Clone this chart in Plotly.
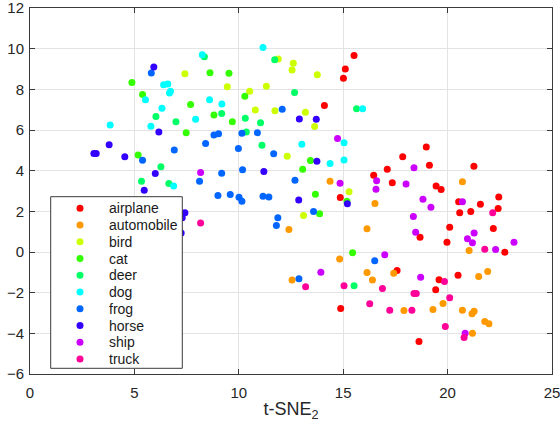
import plotly.graph_objects as go

# ---------------- data ----------------
categories = ["airplane", "automobile", "bird", "cat", "deer",
              "dog", "frog", "horse", "ship", "truck"]
colors = ["#FF0000", "#FF9900", "#CCFF00", "#33FF00", "#00FF66",
          "#00FFFF", "#0066FF", "#3300FF", "#CC00FF", "#FF0099"]

airplane_x = [15.52, 15.10, 15.01, 14.10, 18.98, 17.85, 19.13, 17.11, 21.26, 16.46, 17.35, 19.45, 19.69,
              14.86, 20.53, 21.57, 22.45, 22.42, 20.58, 21.11, 18.68, 20.10, 19.97, 22.19, 22.74, 17.58,
              19.59, 20.50, 19.43, 14.88, 18.63]
airplane_y = [9.67, 9.00, 8.54, 7.20, 5.17, 4.68, 4.27, 4.07, 4.22, 3.77, 3.40, 3.25, 3.07,
              2.68, 2.47, 2.35, 2.71, 2.14, 1.93, 1.99, 0.73, 1.22, 0.48, 1.15, -0.01, -0.91,
              -1.37, -1.14, -1.86, -2.78, -4.40]

automobile_x = [14.37, 20.71, 16.52, 21.03, 16.14, 12.40, 14.83, 12.55, 16.14, 16.40, 17.42, 21.49,
                21.92, 19.78, 17.91, 19.30, 20.71, 21.27, 21.17, 21.78, 21.98, 21.19]
automobile_y = [3.48, 3.45, 2.38, 0.07, 1.14, 1.11, -0.34, -1.38, -1.01, -1.38, -1.04, -1.20,
                -0.96, -2.53, -2.88, -2.83, -2.86, -2.91, -3.04, -3.42, -3.53, -4.00]

bird_x = [7.42, 9.45, 10.52, 11.32, 10.79, 11.73, 11.89, 12.61, 12.55, 13.76, 13.19, 13.63, 12.32, 15.28, 13.10]
bird_y = [8.77, 8.13, 7.90, 8.15, 6.98, 6.95, 9.49, 9.28, 8.95, 8.72, 6.87, 6.17, 4.71, 2.96, 1.79]

cat_x = [4.88, 5.39, 8.62, 9.53, 7.69, 8.81, 7.48, 9.69, 10.29, 5.18, 13.43, 13.06, 13.67, 15.18, 13.87, 15.45]
cat_y = [8.33, 7.74, 8.82, 8.79, 7.26, 6.74, 5.86, 6.40, 7.66, 4.77, 4.50, 4.07, 2.84, 2.50, 1.88, -0.04]

deer_x = [8.35, 6.03, 6.99, 9.18, 10.31, 11.04, 10.36, 11.11, 6.27, 5.34, 6.65, 11.72, 12.67, 15.64, 15.52]
deer_y = [9.60, 6.67, 6.40, 6.81, 6.58, 6.36, 5.90, 5.25, 4.19, 3.48, 3.37, 9.46, 7.85, 7.05, -1.66]

dog_x = [11.16, 8.25, 5.53, 6.40, 6.60, 6.68, 6.73, 8.60, 9.19, 6.32, 7.93, 5.79, 3.84, 6.88,
         15.93, 13.02, 15.04, 14.37, 15.04]
dog_y = [10.06, 9.70, 7.49, 8.23, 8.26, 7.82, 7.90, 7.49, 7.28, 7.07, 6.53, 6.18, 6.25, 3.25,
         7.04, 5.30, 5.37, 4.35, 4.53]

frog_x = [5.81, 8.81, 9.03, 10.15, 10.89, 8.41, 6.91, 9.98, 11.67, 5.39, 9.18, 10.18, 8.12, 9.00,
          9.59, 10.01, 10.15, 11.16, 11.44, 11.80, 11.87, 12.08, 12.69, 13.58, 16.51, 12.88]
frog_y = [8.80, 5.76, 5.82, 5.84, 5.87, 5.33, 5.02, 5.09, 4.83, 4.51, 3.87, 4.05, 3.48, 2.78,
          2.83, 2.69, 2.50, 2.74, 2.71, 1.30, 1.68, 7.02, 3.53, 1.99, -0.43, -1.32]

horse_x = [5.93, 6.17, 3.79, 3.06, 3.17, 4.54, 6.00, 11.20, 5.47, 7.42, 7.29, 7.24, 12.90, 13.71,
           13.74, 15.20, 12.87]
horse_y = [9.10, 5.90, 5.27, 4.84, 4.84, 4.69, 3.86, 3.96, 3.04, 1.93, 1.68, 0.94, 6.54, 6.53,
           4.46, 2.37, 2.56]

ship_x = [8.17, 14.73, 14.85, 18.39, 16.60, 18.01, 16.57, 18.82, 19.20, 20.71, 18.36, 18.47, 21.27,
          20.95, 21.19, 22.30, 23.18, 16.99, 13.93, 18.71, 20.84]
ship_y = [3.91, 5.58, 3.38, 4.14, 3.51, 3.35, 3.09, 2.60, 2.20, 2.47, 1.74, 0.97, 0.94,
          0.65, 0.45, 0.12, 0.48, -0.14, -0.99, -1.24, -4.00]

truck_x = [8.17, 22.16, 21.78, 13.20, 15.04, 16.88, 19.85, 18.39, 18.50, 20.10, 16.27, 17.23, 18.29,
           19.89, 20.79]
truck_y = [1.43, 1.93, 0.14, -1.71, -1.66, -1.79, -1.45, -2.04, -2.04, -2.25, -2.55, -2.86, -2.86,
           -3.66, -4.20]

series_x = [airplane_x, automobile_x, bird_x, cat_x, deer_x, dog_x, frog_x, horse_x, ship_x, truck_x]
series_y = [airplane_y, automobile_y, bird_y, cat_y, deer_y, dog_y, frog_y, horse_y, ship_y, truck_y]

x_ticks = [0, 5, 10, 15, 20, 25]
y_ticks = [-6, -4, -2, 0, 2, 4, 6, 8, 10, 12]

# ---------------- figure ----------------
W_FIG, H_FIG = 560, 429
ML, MR, MT, MB = 30, 8, 8, 55
PW, PH = W_FIG - ML - MR, H_FIG - MT - MB

def px_x(px):
    return (px - ML) / PW

def px_y(py):
    return 1 - (py - MT) / PH

fig = go.Figure()
for name, col, xs, ys in zip(categories, colors, series_x, series_y):
    fig.add_trace(go.Scatter(
        x=xs, y=ys, mode="markers", name=name,
        marker=dict(color=col, size=7, line=dict(width=0)),
        showlegend=False, cliponaxis=True,
    ))

axis_common = dict(
    automargin=False,
    showgrid=True, gridcolor="#E3E3E3", gridwidth=1,
    zeroline=False, showline=True, linecolor="#3A3A3A", linewidth=1,
    mirror="ticks", ticks="inside", ticklen=5, tickcolor="#3A3A3A",
    ticklabeloverflow="allow",
    tickfont=dict(family="Liberation Sans, Arial, sans-serif", size=15, color="#262626"),
)

fig.update_layout(
    width=W_FIG, height=H_FIG,
    margin=dict(l=ML, r=MR, t=MT, b=MB, pad=0, autoexpand=False),
    paper_bgcolor="white", plot_bgcolor="white",
    xaxis=dict(range=[0, 25], tickvals=x_ticks, ticklabelstandoff=5,
               title=dict(text="t-SNE<sub>2</sub>", standoff=2,
                          font=dict(family="Liberation Sans, Arial, sans-serif", size=18, color="#262626")),
               **axis_common),
    yaxis=dict(range=[-6, 12], tickvals=y_ticks, ticklabelstandoff=2, **axis_common),
    showlegend=False,
)

# ---------------- legend box (drawn manually to match spacing) ----------------
shapes = [dict(type="rect", xref="paper", yref="paper",
               x0=px_x(50.7), x1=px_x(182.3), y0=px_y(368.3), y1=px_y(196.7),
               line=dict(color="#3A3A3A", width=1), fillcolor="white", layer="above")]
annotations = []
for i, (name, col) in enumerate(zip(categories, colors)):
    cy = 208.3 + i * 16.75
    shapes.append(dict(type="circle", xref="paper", yref="paper",
                       xsizemode="pixel", ysizemode="pixel",
                       xanchor=px_x(80), yanchor=px_y(cy),
                       x0=-3.5, x1=3.5, y0=-3.5, y1=3.5,
                       fillcolor=col, line=dict(width=0), layer="above"))
    annotations.append(dict(xref="paper", yref="paper", x=px_x(107), y=px_y(cy),
                            xanchor="left", yanchor="middle", showarrow=False,
                            text=name,
                            font=dict(family="Liberation Sans, Arial, sans-serif", size=14, color="#1a1a1a")))
fig.update_layout(shapes=shapes, annotations=annotations)

post_js = ("document.body.style.margin='0';document.body.style.padding='0';"
           "document.body.style.overflow='hidden';")
fig.write_html("out.html", post_script=post_js, config={"displayModeBar": False})
